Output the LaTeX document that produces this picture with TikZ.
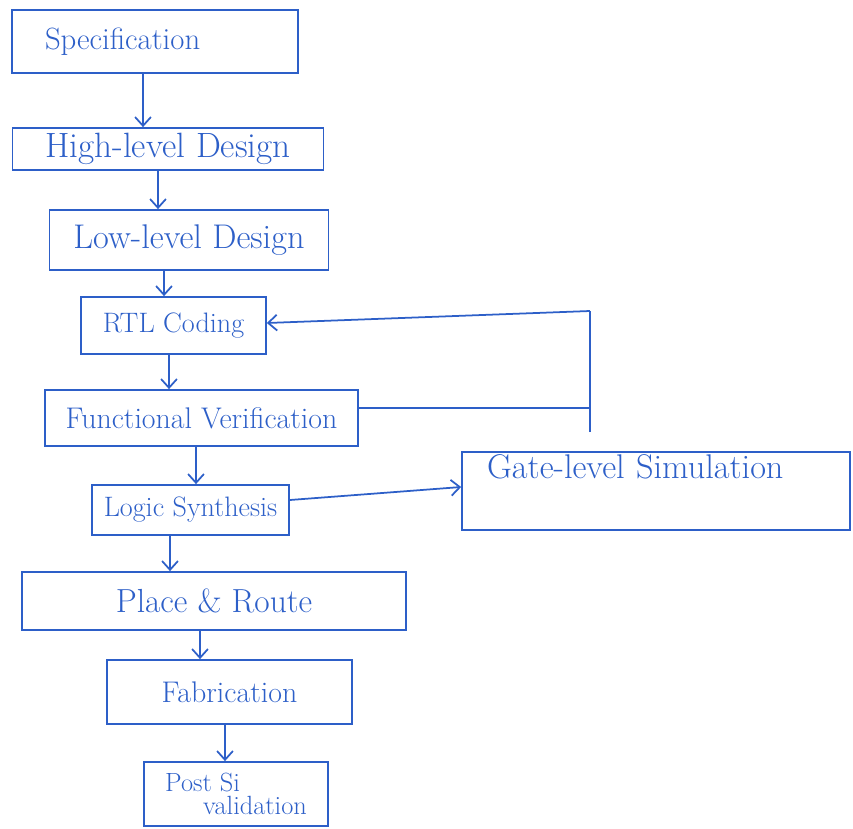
\documentclass[tikz,border=0pt]{standalone}
\usetikzlibrary{arrows.meta}
\definecolor{ink}{RGB}{45,95,200}
\tikzset{
  box/.style={draw=ink, line width=1pt, text=ink, inner sep=2pt, font=\fontsize{16}{19}\selectfont},
  arr/.style={draw=ink, line width=1pt, -{Straight Barb[length=5pt,width=9pt]}},
  wire/.style={draw=ink, line width=1pt}
}
\begin{document}
\begin{tikzpicture}[x=0.02cm,y=-0.02cm]
    \useasboundingbox (0,0) rectangle (853,829);
    \node[box, minimum width=5.72cm, minimum height=1.26cm, text width=4.4cm, inner xsep=0.66cm, align=left, font=\fontsize{17.5}{20}\selectfont] (spec) at (155,41.5) {Specification};
    \node[box, minimum width=6.22cm, minimum height=0.84cm, font=\fontsize{20}{23}\selectfont] (high) at (168,149) {High-level Design};
    \node[box, minimum width=5.58cm, minimum height=1.2cm, font=\fontsize{19.5}{22}\selectfont] (low) at (189,240) {Low-level Design};
    \node[box, minimum width=3.7cm, minimum height=1.14cm] (rtl) at (173.5,325.5) {RTL Coding};
    \node[box, minimum width=6.26cm, minimum height=1.12cm, font=\fontsize{17}{20}\selectfont] (fv) at (201.5,418) {Functional Verification};
    \node[box, minimum width=3.94cm, minimum height=1.0cm, font=\fontsize{16}{19}\selectfont] (ls) at (190.5,510) {Logic Synthesis};
    \node[box, text width=6.76cm, inner xsep=0.5cm, inner ysep=0.1cm, text height=0.42cm, text depth=0.94cm, align=left, font=\fontsize{19.5}{22}\selectfont] (gate) at (656,491) {Gate-level Simulation};
    \node[box, minimum width=7.68cm, minimum height=1.16cm, font=\fontsize{19}{22}\selectfont] (place) at (214,601) {Place \& Route};
    \node[box, minimum width=4.9cm, minimum height=1.28cm, font=\fontsize{17}{20}\selectfont] (fab) at (229.5,692) {Fabrication};
    \node[box, minimum width=3.68cm, minimum height=1.28cm, align=left, font=\fontsize{15}{13}\selectfont] (post) at (236,794) {Post Si\\\hspace*{0.76cm}validation};
    % main flow
    \draw[arr] ([xshift=-0.24cm]spec.south) coordinate (a1) -- (a1 |- high.north);
    \draw[arr] ([xshift=-0.2cm]high.south) coordinate (a2) -- (a2 |- low.north);
    \draw[arr] ([xshift=-0.5cm]low.south) coordinate (a3) -- (a3 |- rtl.north);
    \draw[arr] ([xshift=-0.09cm]rtl.south) coordinate (a4) -- (a4 |- fv.north);
    \draw[arr] ([xshift=-0.11cm]fv.south) coordinate (a5) -- (a5 |- ls.north);
    \draw[arr] ([xshift=-0.41cm]ls.south) coordinate (a6) -- (a6 |- place.north);
    \draw[arr] ([xshift=-0.28cm]place.south) coordinate (a7) -- (a7 |- fab.north);
    \draw[arr] ([xshift=-0.09cm]fab.south) coordinate (a8) -- (a8 |- post.north);
    % loop back to RTL
    \coordinate (fbtop) at (590,311);
    \coordinate (fbbot) at (590,432);
    \draw[wire] ([yshift=0.2cm]fv.east) coordinate (f1) -- (f1 -| fbtop);
    \draw[wire] (fbbot) -- (fbtop);
    \draw[arr] (fbtop) -- ([yshift=0.05cm]rtl.east);
    \draw[arr] ([yshift=0.2cm]ls.east) -- ([yshift=0.08cm]gate.west);
\end{tikzpicture}
\end{document}
